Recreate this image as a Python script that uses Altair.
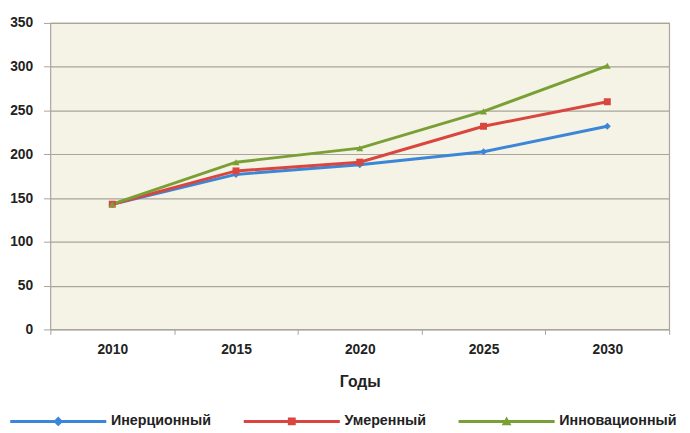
import altair as alt
import pandas as pd

years = ["2010", "2015", "2020", "2025", "2030"]
series = ["Инерционный", "Умеренный", "Инновационный"]
inertial = [143, 177, 188, 203, 232]
moderate = [143, 181, 191, 232, 260]
innovative = [143, 191, 207, 249, 301]
y_ticks = [0, 50, 100, 150, 200, 250, 300, 350]

colors = ["#3b86d6", "#d8463f", "#7aa035"]
plot_shapes = ["diamond", "square", "triangle-up"]
legend_shapes = [
    "M-1,-0.3 L18.5,-0.3 L18.5,0.3 L-1,0.3 Z M8.75,-1 L9.75,0 L8.75,1 L7.75,0 Z",
    "M-1,-0.3 L18.5,-0.3 L18.5,0.3 L-1,0.3 Z M7.95,-0.8 L9.55,-0.8 L9.55,0.8 L7.95,0.8 Z",
    "M-1,-0.3 L18.5,-0.3 L18.5,0.3 L-1,0.3 Z M8.75,-1 L9.75,0.8 L7.75,0.8 Z",
]

rows = []
for name, vals in zip(series, [inertial, moderate, innovative]):
    for yr, v in zip(years, vals):
        rows.append({"Год": yr, "Сценарий": name, "Значение": v})
df = pd.DataFrame(rows)

FONT = "Liberation Sans"

x_enc = alt.X(
    "Год:N",
    sort=years,
    scale=alt.Scale(paddingInner=0, paddingOuter=0),
    axis=alt.Axis(
        title="Годы",
        labelAngle=0,
        tickBand="extent",
        labelFont=FONT, labelFontSize=14, labelFontWeight="bold", labelColor="#222222",
        titleFont=FONT, titleFontSize=16, titleFontWeight="bold", titleColor="#222222",
        titlePadding=18, labelPadding=8,
        tickSize=5, tickColor="#a8a39a", gridColor="#aaa49b", gridWidth=1.2,
        domain=False,
    ),
)
y_enc = alt.Y(
    "Значение:Q",
    scale=alt.Scale(domain=[0, 350], nice=False),
    axis=alt.Axis(
        title=None, values=y_ticks,
        labelFont=FONT, labelFontSize=14, labelFontWeight="bold", labelColor="#222222",
        labelPadding=11, tickSize=7, tickColor="#a8a39a", gridColor="#aaa49b", gridWidth=1.2,
        domain=False, minExtent=43, maxExtent=43,
    ),
)

layers = []
for name, col in zip(series, colors):
    layers.append(
        alt.Chart(df).transform_filter(alt.datum["Сценарий"] == name)
        .mark_line(strokeWidth=3, color=col)
        .encode(x=x_enc, y=y_enc)
    )
for name, shp, col in zip(series, plot_shapes, colors):
    layers.append(
        alt.Chart(df).transform_filter(alt.datum["Сценарий"] == name)
        .mark_point(filled=True, shape=shp, size=50, opacity=1, color=col)
        .encode(x=x_enc, y=y_enc)
    )

legend_cfg = dict(
    title=None, orient="none", legendX=-43, legendY=397, direction="horizontal",
    columns=3, symbolSize=100, labelOffset=90, columnPadding=30,
    labelFont=FONT, labelFontSize=14.5, labelFontWeight="bold", labelColor="#222222",
    symbolStrokeWidth=0, symbolOpacity=1,
)
legend_layer = alt.Chart(df).mark_point(filled=True, opacity=0).encode(
    x=x_enc, y=y_enc,
    color=alt.Color("Сценарий:N", scale=alt.Scale(domain=series, range=colors),
                    legend=alt.Legend(**legend_cfg)),
    shape=alt.Shape("Сценарий:N", scale=alt.Scale(domain=series, range=legend_shapes),
                    legend=alt.Legend(**legend_cfg)),
)
layers.append(legend_layer)

chart = alt.layer(*layers).properties(
    width=628, height=311,
    padding={"left": 0, "top": 5, "right": 5, "bottom": 5},
    background="white",
).configure_view(fill="#f4f3e6", stroke="#aaa49b", strokeWidth=1.2)

chart.save("out.html", embed_options={"renderer": "svg", "actions": False})
